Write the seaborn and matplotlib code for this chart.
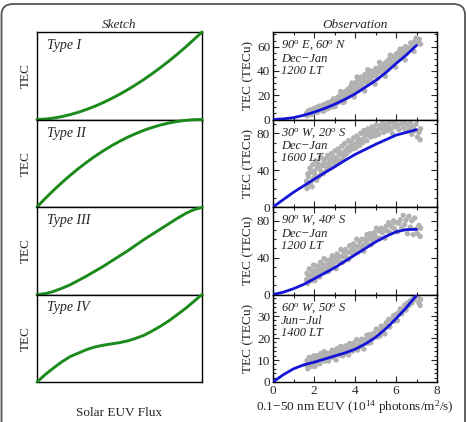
import matplotlib
matplotlib.use("Agg")
import matplotlib.pyplot as plt
import numpy as np
import pandas as pd
import seaborn as sns
from matplotlib.patches import FancyBboxPatch
from matplotlib.ticker import MultipleLocator

# ---- sketch curves (normalised flux vs normalised TEC) ----
sketch_x = [0.0, 0.05, 0.1, 0.15, 0.2, 0.25, 0.3, 0.35, 0.4, 0.45, 0.5,
            0.55, 0.6, 0.65, 0.7, 0.75, 0.8, 0.85, 0.9, 0.95, 1.0]
type1_y = [0.0, 0.005, 0.016, 0.033, 0.055, 0.082, 0.115, 0.151, 0.192, 0.238, 0.287,
           0.341, 0.399, 0.46, 0.526, 0.596, 0.669, 0.746, 0.827, 0.912, 1.0]
type2_y = [0.0, 0.098, 0.19, 0.278, 0.36, 0.438, 0.51, 0.578, 0.64, 0.698, 0.75,
           0.798, 0.84, 0.878, 0.91, 0.938, 0.96, 0.978, 0.99, 0.998, 1.0]
type3_y = [0.0, 0.01, 0.035, 0.07, 0.11, 0.16, 0.21, 0.265, 0.32, 0.38, 0.44,
           0.50, 0.565, 0.63, 0.69, 0.75, 0.81, 0.87, 0.925, 0.97, 0.995]
type4_y = [0.0, 0.085, 0.16, 0.23, 0.29, 0.33, 0.37, 0.40, 0.42, 0.435, 0.45,
           0.47, 0.50, 0.535, 0.585, 0.64, 0.70, 0.77, 0.84, 0.92, 1.0]
sketch_labels = ["Type I", "Type II", "Type III", "Type IV"]

# ---- observation: fitted curves ----
fit_x = [0.0, 0.5, 1.0, 1.5, 2.0, 2.5, 3.0, 3.5, 4.0, 4.5, 5.0, 5.5, 6.0, 6.5, 7.0]
fit1_y = [0.0, 0.5, 1.5, 3.5, 6.0, 9.0, 12.5, 16.5, 21.0, 26.5, 32.0, 38.5, 46.0, 53.0, 61.0]
fit2_y = [0.0, 8.0, 16.0, 23.0, 30.0, 37.0, 43.5, 50.5, 57.0, 62.5, 68.0, 73.0, 78.0, 81.0, 84.0]
fit3_y = [0.0, 2.5, 6.3, 11.0, 17.0, 23.0, 29.0, 36.0, 43.0, 50.0, 57.0, 63.0, 68.0, 70.5, 70.7]
fit4_y = [0.0, 3.3, 6.0, 7.8, 9.0, 10.4, 11.8, 13.2, 14.9, 17.3, 20.3, 24.2, 28.8, 33.8, 39.4]

# ---- observation: daily TEC points (EUV flux, TEC) ----
obs1 = [(1.63, 5), (1.66, 3), (1.71, 7), (1.74, 4.5), (1.79, 6), (1.83, 8), (1.88, 4),
        (1.91, 7), (1.95, 5.5), (2.01, 9), (2.04, 6), (2.09, 7.5), (2.13, 10), (2.17, 6),
        (2.22, 9), (2.26, 11), (2.31, 8), (2.36, 10), (2.41, 7), (2.44, 12), (2.50, 10),
        (2.53, 8), (2.58, 13), (2.63, 11), (2.67, 9), (2.72, 14), (2.77, 12), (2.81, 10),
        (2.86, 15), (2.90, 13), (2.95, 17), (3.01, 14), (3.04, 11), (3.09, 16), (3.14, 18),
        (3.18, 14), (3.23, 19), (3.27, 16), (3.33, 21), (3.37, 17), (3.42, 14), (3.46, 20),
        (3.52, 23), (3.56, 18), (3.61, 22), (3.66, 25), (3.70, 19), (3.75, 24), (3.79, 27),
        (3.84, 21), (3.88, 26), (3.93, 23), (3.98, 29), (4.03, 25), (4.07, 31), (4.12, 24),
        (4.16, 28), (4.21, 33), (4.26, 27), (4.30, 35), (4.35, 30), (4.40, 26), (4.44, 34),
        (4.49, 37), (4.53, 31), (4.58, 36), (4.63, 29), (4.67, 38), (4.72, 33), (4.77, 40),
        (4.82, 35), (4.86, 31), (4.91, 39), (4.96, 36), (5.02, 42), (5.07, 38), (5.12, 34),
        (5.17, 41), (5.23, 44), (5.28, 39), (5.34, 43), (5.39, 40), (5.45, 46), (5.51, 42),
        (5.57, 48), (5.63, 44), (5.69, 50), (5.75, 46), (5.82, 52), (5.88, 48), (5.95, 51),
        (6.02, 54), (6.09, 50), (6.16, 56), (6.24, 53), (6.31, 58), (6.39, 55), (6.47, 60),
        (6.55, 57), (6.63, 59), (6.72, 63), (6.81, 60), (6.90, 64), (6.98, 67), (7.06, 63),
        (7.14, 66), (7.20, 62), (2.48, 7), (2.98, 10.5), (3.48, 14.5), (3.96, 18.5),
        (4.47, 23.5), (4.98, 29), (5.48, 35.5), (5.98, 43), (6.45, 49), (6.88, 56),
        (4.10, 35), (4.62, 41), (5.20, 47), (5.72, 53), (6.20, 58), (3.30, 23), (3.85, 30)]

obs2 = [(1.63, 28), (1.66, 20), (1.70, 36), (1.73, 33), (1.77, 24), (1.80, 42), (1.84, 27),
        (1.87, 38), (1.91, 22), (1.94, 46), (1.98, 31), (2.02, 39), (2.05, 35), (2.09, 50),
        (2.13, 29), (2.16, 43), (2.20, 47), (2.24, 33), (2.28, 41), (2.32, 54), (2.36, 38),
        (2.40, 45), (2.45, 36), (2.49, 49), (2.53, 52), (2.58, 44), (2.62, 40), (2.67, 56),
        (2.71, 47), (2.76, 52), (2.80, 43), (2.85, 58), (2.89, 50), (2.94, 55), (2.99, 47),
        (3.03, 61), (3.08, 53), (3.13, 49), (3.17, 63), (3.22, 57), (3.27, 60), (3.31, 51),
        (3.36, 66), (3.41, 58), (3.45, 55), (3.50, 69), (3.55, 62), (3.60, 58), (3.64, 64),
        (3.69, 72), (3.74, 61), (3.79, 67), (3.84, 70), (3.88, 63), (3.93, 75), (3.98, 68),
        (4.03, 64), (4.08, 77), (4.13, 71), (4.18, 74), (4.23, 67), (4.28, 80), (4.33, 73),
        (4.38, 70), (4.43, 83), (4.48, 77), (4.53, 80), (4.58, 72), (4.63, 85), (4.68, 78),
        (4.73, 82), (4.78, 76), (4.83, 87), (4.88, 80), (4.93, 84), (4.98, 77), (5.04, 89),
        (5.10, 83), (5.16, 79), (5.22, 88), (5.28, 85), (5.34, 91), (5.40, 81), (5.46, 86),
        (5.52, 90), (5.58, 83), (5.64, 88), (5.70, 93), (5.76, 85), (5.82, 80), (5.88, 91),
        (5.94, 87), (6.00, 94), (6.07, 89), (6.14, 84), (6.21, 95), (6.28, 90), (6.35, 86),
        (6.42, 92), (6.49, 82), (6.56, 89), (6.63, 86), (6.70, 91), (6.77, 79), (6.84, 87),
        (6.91, 83), (6.98, 90), (7.05, 76), (7.12, 81), (7.18, 73), (7.20, 85)]

obs3 = [(1.63, 16), (1.66, 23), (1.70, 12), (1.73, 21), (1.77, 28), (1.80, 15), (1.84, 20),
        (1.87, 27), (1.91, 15), (1.94, 25), (1.98, 32), (2.02, 21), (2.05, 15), (2.09, 26),
        (2.13, 31), (2.16, 20), (2.20, 30), (2.24, 25), (2.28, 19), (2.32, 35), (2.36, 28),
        (2.40, 24), (2.45, 32), (2.49, 39), (2.53, 24), (2.58, 29), (2.62, 37), (2.67, 33),
        (2.71, 25), (2.76, 30), (2.80, 38), (2.85, 35), (2.89, 42), (2.94, 30), (2.99, 35),
        (3.03, 40), (3.08, 28), (3.13, 44), (3.17, 36), (3.22, 41), (3.27, 35), (3.31, 49),
        (3.36, 41), (3.41, 35), (3.45, 46), (3.50, 41), (3.55, 49), (3.60, 40), (3.64, 46),
        (3.69, 38), (3.74, 53), (3.79, 46), (3.84, 51), (3.88, 43), (3.93, 55), (3.98, 47),
        (4.03, 52), (4.08, 60), (4.13, 46), (4.18, 52), (4.23, 57), (4.28, 50), (4.33, 60),
        (4.38, 53), (4.43, 47), (4.48, 60), (4.53, 56), (4.58, 65), (4.63, 54), (4.68, 60),
        (4.73, 66), (4.78, 54), (4.83, 64), (4.88, 59), (4.93, 67), (4.98, 64), (5.04, 72),
        (5.10, 61), (5.16, 69), (5.22, 61), (5.28, 72), (5.34, 67), (5.40, 70), (5.46, 61),
        (5.52, 74), (5.58, 69), (5.64, 78), (5.70, 67), (5.76, 75), (5.82, 73), (5.88, 80),
        (5.94, 71), (6.00, 78), (6.07, 68), (6.14, 77), (6.21, 81), (6.28, 72), (6.35, 86),
        (6.42, 76), (6.49, 81), (6.56, 66), (6.63, 85), (6.70, 73), (6.77, 80), (6.84, 65),
        (6.91, 83), (6.98, 71), (7.05, 66), (7.12, 75), (7.18, 63), (7.20, 72)]

obs4 = [(1.63, 7.7), (1.66, 9.8), (1.70, 6.0), (1.73, 9.1), (1.77, 11.2), (1.80, 7.3),
        (1.84, 8.9), (1.87, 11.0), (1.91, 7.2), (1.94, 10.3), (1.98, 11.9), (2.02, 9.1),
        (2.05, 7.1), (2.09, 10.3), (2.13, 11.9), (2.16, 9.0), (2.20, 11.6), (2.24, 10.7),
        (2.28, 8.3), (2.32, 12.9), (2.36, 11.0), (2.40, 9.6), (2.45, 12.2), (2.49, 13.8),
        (2.53, 9.5), (2.58, 11.1), (2.62, 13.2), (2.67, 12.4), (2.71, 9.5), (2.76, 11.1),
        (2.80, 13.2), (2.85, 12.3), (2.89, 14.5), (2.94, 11.1), (2.99, 12.8), (3.03, 13.9),
        (3.08, 10.0), (3.13, 15.2), (3.17, 12.8), (3.22, 14.0), (3.27, 12.1), (3.31, 16.2),
        (3.36, 14.3), (3.41, 11.9), (3.45, 15.5), (3.50, 13.7), (3.55, 16.4), (3.60, 13.0),
        (3.64, 15.1), (3.69, 12.3), (3.74, 17.5), (3.79, 15.2), (3.84, 16.3), (3.88, 14.0),
        (3.93, 17.7), (3.98, 14.8), (4.03, 16.5), (4.08, 19.3), (4.13, 14.5), (4.18, 16.7),
        (4.23, 18.5), (4.28, 16.2), (4.33, 19.5), (4.38, 17.2), (4.43, 15.0), (4.48, 19.2),
        (4.53, 18.5), (4.58, 21.3), (4.63, 17.6), (4.68, 19.8), (4.73, 21.6), (4.78, 17.9),
        (4.83, 21.2), (4.88, 20.0), (4.93, 22.3), (4.98, 21.2), (5.04, 24.1), (5.10, 20.5),
        (5.16, 23.5), (5.22, 21.0), (5.28, 25.4), (5.34, 23.9), (5.40, 24.9), (5.46, 21.9),
        (5.52, 26.9), (5.58, 25.4), (5.64, 28.5), (5.70, 25.0), (5.76, 28.5), (5.82, 28.1),
        (5.88, 30.2), (5.94, 27.7), (6.00, 30.8), (6.07, 28.0), (6.14, 31.6), (6.21, 33.3),
        (6.28, 31.0), (6.35, 32.8), (6.42, 35.0), (6.49, 32.7), (6.56, 36.0), (6.63, 34.7),
        (6.70, 37.0), (6.77, 35.8), (6.84, 38.1), (6.91, 37.4), (6.98, 39.2), (7.05, 39.0),
        (7.12, 36.0), (7.18, 34.8), (7.20, 37.5)]

obs_labels = [r"90$^o$ E, 60$^o$ N" + "\nDec\u2212Jan\n1200 LT",
              r"30$^o$ W, 20$^o$ S" + "\nDec\u2212Jan\n1600 LT",
              r"90$^o$ W, 40$^o$ S" + "\nDec\u2212Jan\n1200 LT",
              r"60$^o$ W, 50$^o$ S" + "\nJun\u2212Jul\n1400 LT"]
obs_ylim = [72, 95, 95, 39.8]
obs_major = [20, 40, 40, 10]
obs_minor = [5, 10, 10, 2]

GREEN = "#1b8a1b"
BLUE = "#1414d8"
GRAY = "#b2b2b2"

sns.set_style("ticks")
plt.rcParams["font.family"] = ["Liberation Serif", "DejaVu Serif"]
plt.rcParams["mathtext.fontset"] = "custom"
plt.rcParams["mathtext.rm"] = "Liberation Serif"
plt.rcParams["mathtext.it"] = "Liberation Serif:italic"
plt.rcParams["axes.edgecolor"] = "black"
plt.rcParams["axes.linewidth"] = 1.0

fig = plt.figure(figsize=(4.67, 4.22), dpi=100)

W, H = 467.0, 422.0
tops = [32, 119.5, 207, 294.5]
ph = 87.5

sketch_ys = [type1_y, type2_y, type3_y, type4_y]
fit_ys = [fit1_y, fit2_y, fit3_y, fit4_y]
obs_all = [obs1, obs2, obs3, obs4]

for i in range(4):
    bottom = 1 - (tops[i] + ph) / H
    # left: sketch
    axl = fig.add_axes([37 / W, bottom, 165 / W, ph / H])
    df = pd.DataFrame({"x": sketch_x, "y": sketch_ys[i]})
    sns.lineplot(data=df, x="x", y="y", ax=axl, color=GREEN, lw=2.1,
                 clip_on=False, zorder=5)
    axl.set_xlim(0, 1)
    axl.set_ylim(0, 1)
    axl.set_xticks([])
    axl.set_yticks([])
    axl.set_xlabel("")
    axl.set_ylabel("TEC", fontsize=9.5, labelpad=4)
    axl.text(0.06, 0.92, sketch_labels[i], transform=axl.transAxes,
             fontsize=10, style="italic", va="top", ha="left")
    for s in axl.spines.values():
        s.set_visible(True)
    if i == 0:
        axl.set_title("Sketch", fontsize=9.5, style="italic", pad=3)
    if i == 3:
        axl.set_xlabel("Solar EUV Flux", fontsize=9.5, labelpad=18)

    # right: observation
    axr = fig.add_axes([273 / W, bottom, 164 / W, ph / H])
    dfo = pd.DataFrame(obs_all[i], columns=["x", "y"])
    sns.scatterplot(data=dfo, x="x", y="y", ax=axr, color=GRAY, s=15,
                    edgecolor="none", zorder=2)
    dff = pd.DataFrame({"x": fit_x, "y": fit_ys[i]})
    sns.lineplot(data=dff, x="x", y="y", ax=axr, color=BLUE, lw=2.0, zorder=4)
    axr.set_xlim(0, 8)
    axr.set_ylim(0, obs_ylim[i])
    axr.xaxis.set_major_locator(MultipleLocator(2))
    axr.xaxis.set_minor_locator(MultipleLocator(1))
    axr.yaxis.set_major_locator(MultipleLocator(obs_major[i]))
    axr.yaxis.set_minor_locator(MultipleLocator(obs_minor[i]))
    axr.tick_params(which="both", direction="in", top=True, right=True,
                    labelsize=9.5, pad=2)
    axr.tick_params(which="major", length=4.5, width=0.8)
    axr.tick_params(which="minor", length=2.5, width=0.8)
    for s in axr.spines.values():
        s.set_visible(True)
    axr.set_ylabel("TEC (TECu)", fontsize=9.5, labelpad=2)
    axr.text(0.05, 0.93, obs_labels[i], transform=axr.transAxes,
             fontsize=9, style="italic", va="top", ha="left", linespacing=1.05)
    if i < 3:
        axr.tick_params(labelbottom=False)
        axr.set_xlabel("")
    else:
        axr.set_xlabel(r"0.1$-$50 nm EUV (10$^{14}$ photons/m$^2$/s)",
                       fontsize=9.5, labelpad=1)
    if i == 0:
        axr.set_title("Observation", fontsize=9.5, style="italic", pad=3)

# rounded frame around the figure
frame = FancyBboxPatch((1.5 / W, -0.05), 463.5 / W, 1.0 - 4 / H + 0.05,
                       boxstyle="round,pad=0,rounding_size=0.025",
                       transform=fig.transFigure, fill=False,
                       edgecolor="#555555", lw=1.3)
fig.patches.append(frame)

fig.savefig("out.png", dpi=100)
